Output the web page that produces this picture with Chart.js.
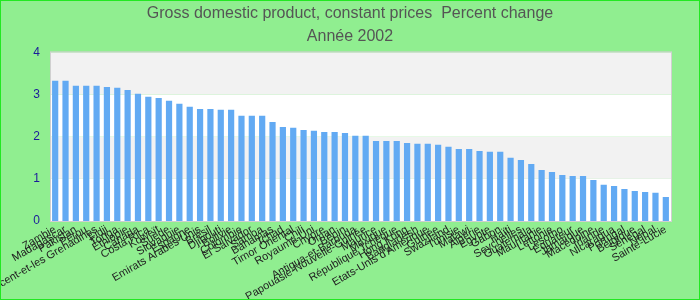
<!DOCTYPE html>
<html>
<head>
<meta charset="utf-8">
<script src="https://cdn.jsdelivr.net/npm/chart.js@4.4.1/dist/chart.umd.min.js"></script>
<style>
html,body{margin:0;padding:0;background:#90ee90;}
#wrap{width:700px;height:300px;box-sizing:border-box;border:1px solid #22e822;background:#90ee90;position:relative;}
</style>
</head>
<body>
<div id="wrap"><canvas id="c"></canvas></div>
<script>
const categories = ["Zambie","Madagascar","Pakistan","Pérou","Saint-Vincent-et-les Grenadines","Fidji","Tonga","Éthiopie","Canada","Costa Rica","Koweït","Suède","Slovaquie","Espagne","Emirats Arabes Unis","Brésil","Djibouti","Bolivie","Colombie","El Salvador","Samoa","Bahamas","Tchad","Timor Oriental","Chili","Royaume-Uni","Chypre","Oman","Bénin","Antigua-et-Barbuda","Papouasie-Nouvelle-Guinée","Maurice","Mexique","République Tchèque","Hong Kong","Bangladesh","Etats-Unis d'Amérique","Guinée","Swaziland","Tunisie","Malawi","Algérie","Egypte","Gabon","Haïti","Seychelles","Guatemala","Mauritanie","Lettonie","Lesotho","Equateur","Jamaïque","Macédoine","Irlande","Nicaragua","Portugal","Belgique","Sénégal","Népal","Sainte-Lucie"];
const values = [3.33,3.33,3.21,3.21,3.21,3.18,3.16,3.11,3.02,2.95,2.92,2.85,2.78,2.71,2.66,2.66,2.64,2.64,2.50,2.50,2.50,2.35,2.23,2.21,2.16,2.14,2.11,2.11,2.09,2.02,2.02,1.90,1.90,1.90,1.85,1.83,1.83,1.81,1.76,1.71,1.71,1.66,1.64,1.64,1.50,1.45,1.35,1.21,1.16,1.09,1.07,1.07,0.97,0.86,0.83,0.76,0.71,0.69,0.67,0.57];
const yTicks = [0,1,2,3,4];
const titleLines = ["Gross domestic product, constant prices  Percent change","Année 2002"];

const bands = {
  id:'bands',
  beforeDatasetsDraw(chart){
    const {ctx, chartArea:a, scales:{y}} = chart;
    ctx.save();
    for(let i=0;i<yTicks.length-1;i++){
      const t=y.getPixelForValue(yTicks[i+1]), b=y.getPixelForValue(yTicks[i]);
      ctx.fillStyle = (i%2===0)?'#ffffff':'#f2f2f2';
      ctx.fillRect(a.left,t,a.right-a.left,b-t);
    }
    ctx.strokeStyle='#d0d0d0';ctx.lineWidth=1;
    ctx.strokeRect(a.left+0.5,a.top-0.5,a.right-a.left,a.bottom-a.top+1);
    ctx.restore();
  }
};

new Chart(document.getElementById('c'),{
  type:'bar',
  data:{labels:categories,datasets:[{data:values,backgroundColor:'#62aaf3',borderWidth:0,categoryPercentage:1,barPercentage:0.6}]},
  options:{
    responsive:true,maintainAspectRatio:false,animation:false,
    layout:{padding:0},
    plugins:{
      legend:{display:false},tooltip:{enabled:false},
      title:{display:true,text:titleLines,color:'#555555',font:{family:'Liberation Sans, Arial',size:16,weight:'normal',lineHeight:1.45},padding:{top:1,bottom:4}}
    },
    scales:{
      x:{grid:{display:false,drawTicks:false},border:{display:false},
         ticks:{autoSkip:false,minRotation:30,maxRotation:30,color:'#222',font:{family:'Liberation Sans, Arial',size:11},padding:2},
         afterFit(s){s.height=78;}},
      y:{min:0,max:4,grid:{display:false,drawTicks:false},border:{display:false},
         ticks:{stepSize:1,color:'#1a1a9a',font:{family:'Liberation Sans, Arial',size:12},padding:10},
         afterFit(s){s.width=49;}},
      yR:{position:'right',min:0,max:4,grid:{display:false,drawTicks:false},border:{display:false},
         ticks:{display:false},afterFit(s){s.width=28;}}
    }
  },
  plugins:[bands]
});
</script>
</body>
</html>
